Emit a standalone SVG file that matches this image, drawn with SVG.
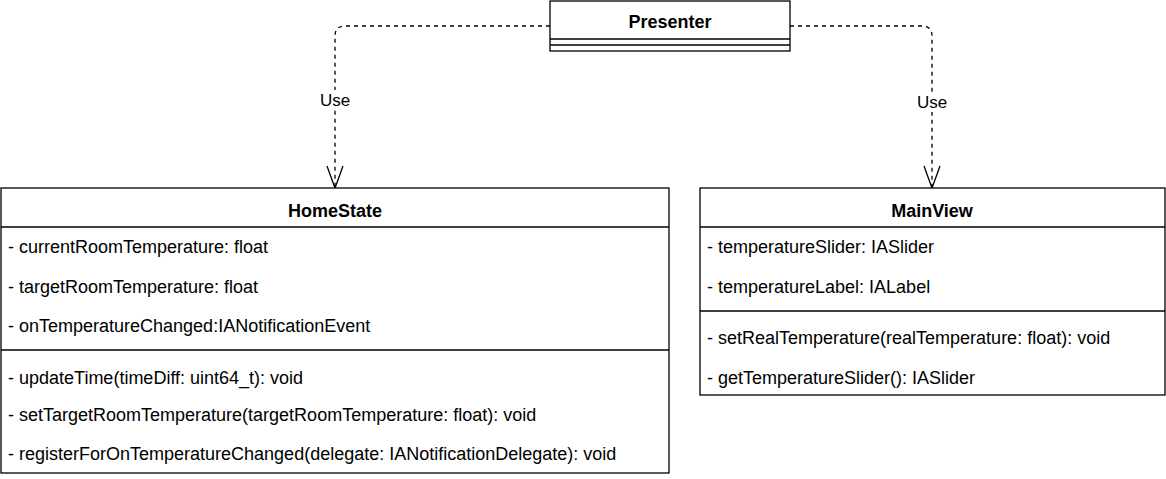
<svg xmlns="http://www.w3.org/2000/svg" width="1166" height="479" viewBox="0 0 1166 479">
<style>
.box{fill:#fff;stroke:#000;stroke-width:1.3}
.ln{stroke:#000;stroke-width:1.3;fill:none}
.t{font-family:"Liberation Sans",Arial,sans-serif;font-size:18px;fill:#000}
.b{font-weight:bold;text-anchor:middle}
.lbl{font-family:"Liberation Sans",Arial,sans-serif;font-size:17px;fill:#000;text-anchor:middle}
.dash{stroke:#000;stroke-width:1.3;fill:none;stroke-dasharray:4 4}
</style>
<g id="connectors">
<path class="dash" d="M550 26 H345 Q335 26 335 36 V187"/>
<path class="ln" d="M327 166 L335 188 L343 166"/>
<rect x="316" y="90" width="38" height="20" fill="#fff"/>
<text class="lbl" x="335" y="106">Use</text>
<path class="dash" d="M790 26 H922 Q932 26 932 36 V187"/>
<path class="ln" d="M924 166 L932 188 L940 166"/>
<rect x="913" y="92" width="38" height="20" fill="#fff"/>
<text class="lbl" x="932" y="108">Use</text>
</g>
<g id="Presenter">
<rect class="box" x="550" y="1" width="240" height="50"/>
<line class="ln" x1="550" y1="39" x2="790" y2="39"/>
<line class="ln" x1="550" y1="45" x2="790" y2="45"/>
<text class="t b" x="670" y="28">Presenter</text>
</g>
<g id="HomeState">
<rect class="box" x="1" y="188" width="668" height="285"/>
<line class="ln" x1="1" y1="227" x2="669" y2="227"/>
<line class="ln" x1="1" y1="350" x2="669" y2="350"/>
<text class="t b" x="335" y="217">HomeState</text>
<text class="t" x="8" y="253">- currentRoomTemperature: float</text>
<text class="t" x="8" y="293">- targetRoomTemperature: float</text>
<text class="t" x="8" y="332">- onTemperatureChanged:IANotificationEvent</text>
<text class="t" x="8" y="384">- updateTime(timeDiff: uint64_t): void</text>
<text class="t" x="8" y="421">- setTargetRoomTemperature(targetRoomTemperature: float): void</text>
<text class="t" x="8" y="460">- registerForOnTemperatureChanged(delegate: IANotificationDelegate): void</text>
</g>
<g id="MainView">
<rect class="box" x="700" y="188" width="465" height="207"/>
<line class="ln" x1="700" y1="227" x2="1165" y2="227"/>
<line class="ln" x1="700" y1="311" x2="1165" y2="311"/>
<text class="t b" x="932" y="217">MainView</text>
<text class="t" x="707" y="253">- temperatureSlider: IASlider</text>
<text class="t" x="707" y="293">- temperatureLabel: IALabel</text>
<text class="t" x="707" y="344">- setRealTemperature(realTemperature: float): void</text>
<text class="t" x="707" y="384">- getTemperatureSlider(): IASlider</text>
</g>
</svg>
